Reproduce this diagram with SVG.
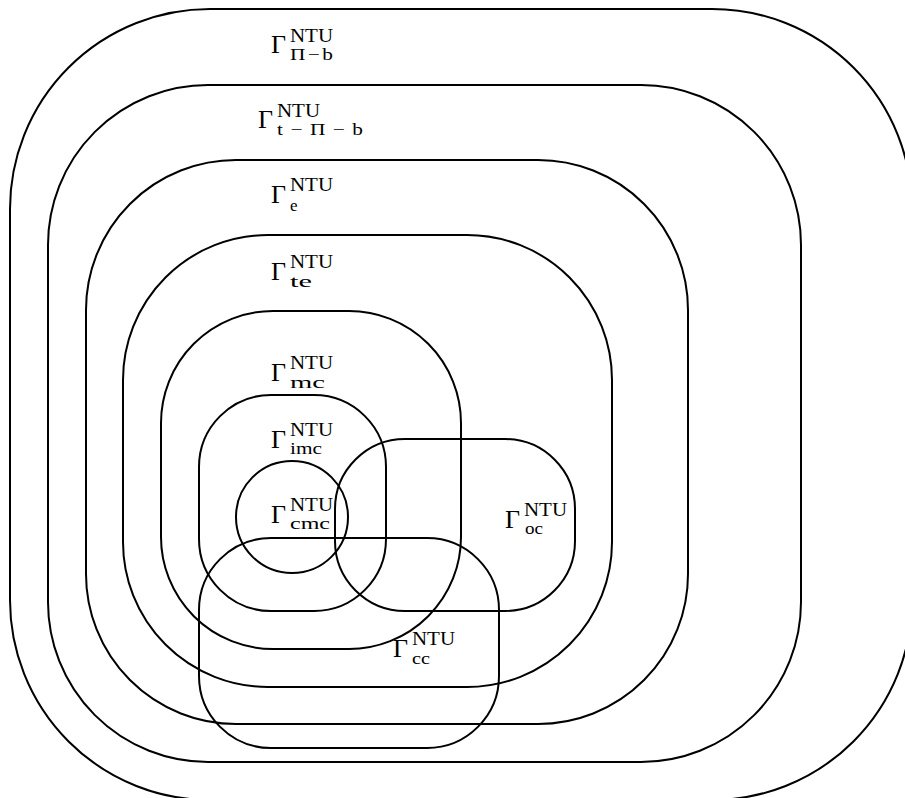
<svg xmlns="http://www.w3.org/2000/svg" width="905" height="798" viewBox="0 0 905 798">
<style>
.s{fill:none;stroke:#000;stroke-width:2}
.g{font-family:"Liberation Serif","DejaVu Serif",serif;font-size:26px;fill:#000}
.u{font-family:"Liberation Serif","DejaVu Serif",serif;font-size:18px;fill:#000}
.d{font-family:"Liberation Serif","DejaVu Serif",serif;font-size:17px;fill:#000}
</style>
<rect width="905" height="798" fill="#fff"/>
<g id="pi-b">
<rect class="s" x="10" y="9" width="902" height="791" rx="200" ry="200"/>
<text class="g" x="271" y="53">Γ</text>
<text class="u" x="290" y="42" textLength="43" lengthAdjust="spacingAndGlyphs">NTU</text>
<text class="d" x="290" y="60" textLength="43" lengthAdjust="spacingAndGlyphs">Π<tspan dx="2">−</tspan><tspan dx="2">b</tspan></text>
</g>
<g id="t-pi-b">
<rect class="s" x="48" y="85" width="753" height="677" rx="160" ry="160"/>
<text class="g" x="258" y="128">Γ</text>
<text class="u" x="277" y="117" textLength="43" lengthAdjust="spacingAndGlyphs">NTU</text>
<text class="d" x="277" y="135" textLength="86" lengthAdjust="spacingAndGlyphs">t<tspan dx="6">−</tspan><tspan dx="6">Π</tspan><tspan dx="6">−</tspan><tspan dx="6">b</tspan></text>
</g>
<g id="e">
<rect class="s" x="86" y="160" width="602" height="564" rx="150" ry="150"/>
<text class="g" x="271" y="203">Γ</text>
<text class="u" x="290" y="191" textLength="43" lengthAdjust="spacingAndGlyphs">NTU</text>
<text class="d" x="290" y="211">e</text>
</g>
<g id="te">
<rect class="s" x="123" y="235" width="489" height="452" rx="145" ry="145"/>
<text class="g" x="271" y="280">Γ</text>
<text class="u" x="290" y="268" textLength="43" lengthAdjust="spacingAndGlyphs">NTU</text>
<text class="d" x="290" y="287" textLength="22" lengthAdjust="spacingAndGlyphs">te</text>
</g>
<g id="mc">
<rect class="s" x="161" y="311" width="300" height="338" rx="112" ry="112"/>
<text class="g" x="271" y="381">Γ</text>
<text class="u" x="290" y="369" textLength="43" lengthAdjust="spacingAndGlyphs">NTU</text>
<text class="d" x="290" y="388" textLength="35" lengthAdjust="spacingAndGlyphs">mc</text>
</g>
<g id="imc">
<rect class="s" x="199" y="395" width="187" height="216" rx="72" ry="72"/>
<text class="g" x="271" y="448">Γ</text>
<text class="u" x="290" y="436" textLength="43" lengthAdjust="spacingAndGlyphs">NTU</text>
<text class="d" x="290" y="454" textLength="32" lengthAdjust="spacingAndGlyphs">imc</text>
</g>
<g id="cmc">
<circle class="s" cx="292" cy="517" r="56"/>
<text class="g" x="271" y="523">Γ</text>
<text class="u" x="290" y="511" textLength="43" lengthAdjust="spacingAndGlyphs">NTU</text>
<text class="d" x="290" y="529" textLength="40" lengthAdjust="spacingAndGlyphs">cmc</text>
</g>
<g id="oc">
<rect class="s" x="335" y="439" width="240" height="172" rx="70" ry="70"/>
<text class="g" x="505" y="528">Γ</text>
<text class="u" x="524" y="516" textLength="43" lengthAdjust="spacingAndGlyphs">NTU</text>
<text class="d" x="525" y="534" textLength="18" lengthAdjust="spacingAndGlyphs">oc</text>
</g>
<g id="cc">
<rect class="s" x="199" y="538" width="300" height="210" rx="72" ry="72"/>
<text class="g" x="393" y="657">Γ</text>
<text class="u" x="412" y="645" textLength="43" lengthAdjust="spacingAndGlyphs">NTU</text>
<text class="d" x="412" y="664" textLength="18" lengthAdjust="spacingAndGlyphs">cc</text>
</g>
<g id="connectors"/>
</svg>
